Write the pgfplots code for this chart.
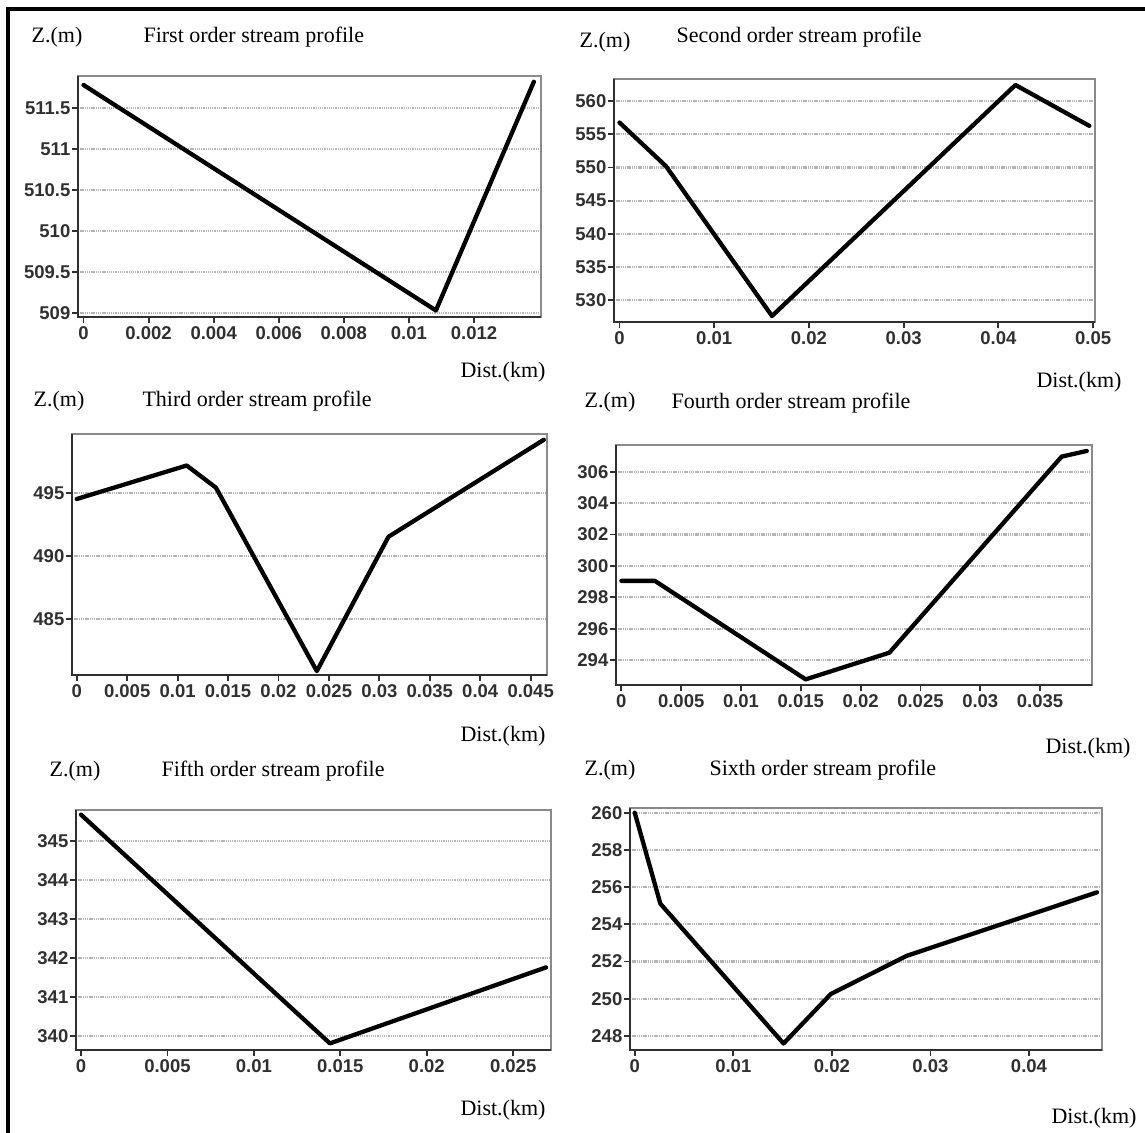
\documentclass[border=0pt]{standalone}
\usepackage{fontspec}
\setmainfont{Liberation Serif}
\newfontfamily\tickfont{Liberation Sans}
\usepackage{pgfplots}
\pgfplotsset{compat=1.18}
\definecolor{tickcol}{HTML}{303030}
\definecolor{boxgray}{HTML}{8A8A8A}
\definecolor{gridgray}{HTML}{B4B4B4}
\pgfplotsset{prof/.style={
  scale only axis, anchor=south west, clip=false,
  axis line style={boxgray, line width=1.6bp},
  tick pos=left, tick align=outside,
  major tick length=6bp,
  tick style={tickcol, line width=1.8bp},
  ymajorgrids, grid style={gridgray, dash pattern=on 1.3bp off 0.9bp, line width=2.2bp},
  scaled x ticks=false, scaled y ticks=false,
  /pgf/number format/assume math mode=true,
  /pgf/number format/fixed,
  /pgf/number format/precision=3,
  tick label style={font=\tickfont\bfseries\fontsize{18.5bp}{18.5bp}\selectfont, text=tickcol},
  yticklabel style={inner sep=1.5bp},
  xticklabel style={inner sep=3bp},
}, prof line/.style={black, line width=4.3bp, line join=round, line cap=round, mark=none}}
\newcommand{\darkbox}{\draw[tickcol, line width=1.8bp] (rel axis cs:0,1) -- (rel axis cs:0,0) -- (rel axis cs:1,0);}
\newcommand{\lbl}{\fontsize{22bp}{26bp}\selectfont}
\begin{document}
\begin{tikzpicture}
\fill[white] (0,0) rectangle (1145bp,-1133bp);
\path[use as bounding box] (0,0) rectangle (1145bp,-1133bp);
\draw[black, line width=4bp] (7.5bp,-1133bp) -- (7.5bp,-8.5bp) -- (1145bp,-8.5bp);

% Panel 1
\begin{axis}[prof, at={(78bp,-317bp)}, width=463bp, height=241bp,
  xmin=-0.00017, xmax=0.01406, ymin=508.95, ymax=511.89,
  xtick={0,0.002,0.004,0.006,0.008,0.01,0.012},
  ytick={509,509.5,510,510.5,511,511.5}]
\addplot[prof line] coordinates {(0,511.78) (0.01083,509.03) (0.01384,511.82)};
\darkbox
\end{axis}
\node[font=\lbl] at (57bp,-37bp) {Z.(m)};
\node[font=\lbl, anchor=west] at (140bp,-37bp) {First order stream profile};
\node[font=\lbl, anchor=east] at (549bp,-372bp) {Dist.(km)};

% Panel 2
\begin{axis}[prof, at={(614bp,-322bp)}, width=481bp, height=243bp,
  xmin=-0.00058, xmax=0.0502, ymin=526.75, ymax=563.3,
  xtick={0,0.01,0.02,0.03,0.04,0.05},
  ytick={530,535,540,545,550,555,560}]
\addplot[prof line] coordinates {(0,556.75) (0.0049,550.2) (0.0161,527.65) (0.0418,562.4) (0.0496,556.25)};
\darkbox
\end{axis}
\node[font=\lbl] at (605bp,-42bp) {Z.(m)};
\node[font=\lbl, anchor=west] at (673bp,-37bp) {Second order stream profile};
\node[font=\lbl, anchor=east] at (1125bp,-382bp) {Dist.(km)};

% Panel 3
\begin{axis}[prof, at={(72bp,-675bp)}, width=475bp, height=241bp,
  xmin=-0.00047, xmax=0.04662, ymin=480.53, ymax=499.66,
  xtick={0,0.005,0.01,0.015,0.02,0.025,0.03,0.035,0.04,0.045},
  ytick={485,490,495}]
\addplot[prof line] coordinates {(0,494.5) (0.0109,497.16) (0.0138,495.4) (0.0238,480.84) (0.0309,491.5) (0.0463,499.2)};
\darkbox
\end{axis}
\node[font=\lbl] at (59bp,-401bp) {Z.(m)};
\node[font=\lbl, anchor=west] at (139bp,-401bp) {Third order stream profile};
\node[font=\lbl, anchor=east] at (549bp,-736bp) {Dist.(km)};

% Panel 4
\begin{axis}[prof, at={(616bp,-685bp)}, width=476bp, height=240bp,
  xmin=-0.00045, xmax=0.03934, ymin=292.41, ymax=307.71,
  xtick={0,0.005,0.01,0.015,0.02,0.025,0.03,0.035},
  ytick={294,296,298,300,302,304,306}]
\addplot[prof line] coordinates {(0,299.05) (0.0028,299.05) (0.0154,292.77) (0.0224,294.47) (0.0368,306.97) (0.0389,307.33)};
\darkbox
\end{axis}
\node[font=\lbl] at (610bp,-402bp) {Z.(m)};
\node[font=\lbl, anchor=west] at (668bp,-403bp) {Fourth order stream profile};
\node[font=\lbl, anchor=east] at (1134bp,-748bp) {Dist.(km)};

% Panel 5
\begin{axis}[prof, at={(76bp,-1050bp)}, width=475bp, height=240bp,
  xmin=-0.00029, xmax=0.02719, ymin=339.64, ymax=345.8,
  xtick={0,0.005,0.01,0.015,0.02,0.025},
  ytick={340,341,342,343,344,345}]
\addplot[prof line] coordinates {(0,345.68) (0.0144,339.81) (0.0269,341.76)};
\darkbox
\end{axis}
\node[font=\lbl] at (75bp,-771bp) {Z.(m)};
\node[font=\lbl, anchor=west] at (158bp,-771bp) {Fifth order stream profile};
\node[font=\lbl, anchor=east] at (549bp,-1110bp) {Dist.(km)};

% Panel 6
\begin{axis}[prof, at={(630bp,-1050bp)}, width=472bp, height=242bp,
  xmin=-0.00048, xmax=0.04741, ymin=247.25, ymax=260.25,
  xtick={0,0.01,0.02,0.03,0.04},
  ytick={248,250,252,254,256,258,260}]
\addplot[prof line] coordinates {(0,260) (0.0026,255.11) (0.0151,247.6) (0.0199,250.26) (0.0276,252.31) (0.0469,255.72)};
\darkbox
\end{axis}
\node[font=\lbl] at (610bp,-770bp) {Z.(m)};
\node[font=\lbl, anchor=west] at (706bp,-770bp) {Sixth order stream profile};
\node[font=\lbl, anchor=east] at (1140bp,-1118bp) {Dist.(km)};
\end{tikzpicture}
\end{document}
